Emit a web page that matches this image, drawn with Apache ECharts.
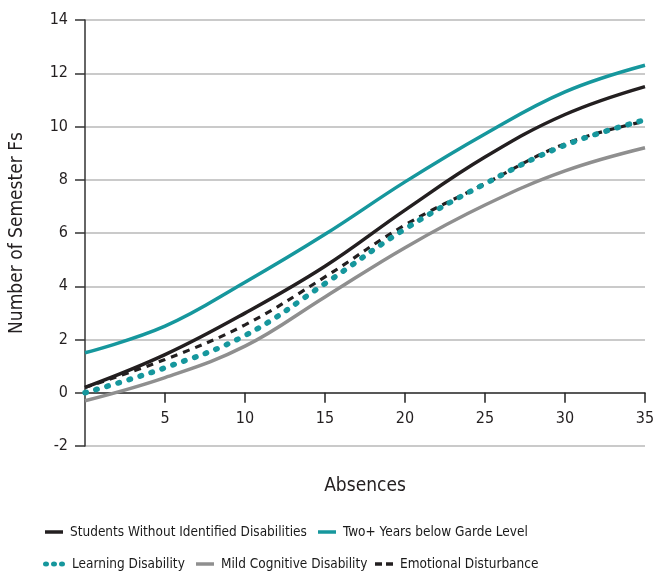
<!DOCTYPE html>
<html>
<head>
<meta charset="utf-8">
<script src="https://cdn.jsdelivr.net/npm/echarts@6/dist/echarts.min.js"></script>
<style>html,body{margin:0;padding:0;background:#fff}#c{width:661px;height:575px}</style>
</head>
<body>
<div id="c"></div>
<script>
var absences = [0, 5, 10, 15, 20, 25, 30, 35];
var noDisability = [0.2, 1.43, 2.99, 4.75, 6.86, 8.85, 10.45, 11.5];
var twoPlusBelow = [1.5, 2.5, 4.15, 5.95, 7.92, 9.72, 11.3, 12.3];
var learningDis = [0.0, 0.94, 2.15, 4.1, 6.15, 7.85, 9.3, 10.25];
var mildCognitive = [-0.3, 0.57, 1.75, 3.6, 5.45, 7.05, 8.33, 9.2];
var emotionalDist = [0.2, 1.25, 2.55, 4.35, 6.3, 7.85, 9.35, 10.2];
var seriesNames = ['Students Without Identified Disabilities', 'Two+ Years below Garde Level', 'Learning Disability', 'Mild Cognitive Disability', 'Emotional Disturbance'];
var yTicks = [-2, 0, 2, 4, 6, 8, 10, 12, 14];
var xTicks = [0, 5, 10, 15, 20, 25, 30, 35];

var FONT = "'Liberation Sans Narrow', 'Arial Narrow', 'DejaVu Sans Condensed', sans-serif";
function pairs(ys) { return absences.map(function (x, i) { return [x, ys[i]]; }); }

var TEAL = '#16979d', BLACK = '#231f20', GRAY = '#8f8f8f';
var ICON_SOLID = 'path://M0,0H18V3.5H0Z';
var ICON_DASH = 'path://M0,0H7V3.5H0Z M11,0H18V3.5H11Z';
var ICON_DOT = 'path://M0,2.5A3,2.5 0 1,0 6,2.5A3,2.5 0 1,0 0,2.5Z M8,2.5A3,2.5 0 1,0 14,2.5A3,2.5 0 1,0 8,2.5Z M16,2.5A3,2.5 0 1,0 22,2.5A3,2.5 0 1,0 16,2.5Z';

function leg(name, icon, w, h, left, top) {
  return {
    data: [{ name: name, icon: icon }], left: left, top: top, itemWidth: w, itemHeight: h, itemGap: 0,
    padding: 0, selectedMode: false, itemStyle: { borderWidth: 0 },
    textStyle: { fontFamily: FONT, fontSize: 13.5, color: '#1a1a1a', padding: [0, 0, 0, 2] }
  };
}

var GRID_TOP = 20, GRID_BOTTOM = 129, H = 575;
var zeroOffset = -(H - GRID_TOP - GRID_BOTTOM) * (0 - yTicks[0]) / (yTicks[yTicks.length - 1] - yTicks[0]);

var chart = echarts.init(document.getElementById('c'), null, { renderer: 'canvas' });
chart.setOption({
  animation: false,
  backgroundColor: '#fff',
  textStyle: { fontFamily: FONT },
  grid: { left: 85, right: 16, top: GRID_TOP, bottom: GRID_BOTTOM, containLabel: false },
  legend: [
    leg(seriesNames[0], ICON_SOLID, 18, 3.5, 45, 525),
    leg(seriesNames[1], ICON_SOLID, 18, 3.5, 318, 525),
    leg(seriesNames[2], ICON_DOT, 22, 5, 43, 557),
    leg(seriesNames[3], ICON_SOLID, 18, 3.5, 196, 557),
    leg(seriesNames[4], ICON_DASH, 18, 3.5, 375, 557)
  ],
  xAxis: {
    type: 'value', min: xTicks[0], max: xTicks[xTicks.length - 1], interval: 5,
    position: 'bottom', offset: zeroOffset,
    name: 'Absences', nameLocation: 'middle', nameGap: 84,
    nameTextStyle: { fontFamily: FONT, fontSize: 19, color: '#231f20' },
    axisLine: { onZero: false, lineStyle: { color: '#333', width: 1.5 } },
    axisTick: { show: true, inside: false, length: 10, lineStyle: { color: '#222', width: 1.5 } },
    axisLabel: { fontFamily: FONT, fontSize: 16, color: '#231f20', margin: 18, showMinLabel: false,
      formatter: function (v) { return v === 0 ? '' : String(v); } },
    splitLine: { show: false }
  },
  yAxis: {
    type: 'value', min: yTicks[0], max: yTicks[yTicks.length - 1], interval: 2,
    name: 'Number of Semester Fs', nameLocation: 'middle', nameGap: 58, nameRotate: 90,
    nameTextStyle: { fontFamily: FONT, fontSize: 19, color: '#231f20' },
    axisLine: { show: true, onZero: false, lineStyle: { color: '#333', width: 1.5 } },
    axisTick: { show: true, inside: false, length: 10, lineStyle: { color: '#333', width: 1.5 } },
    axisLabel: { fontFamily: FONT, fontSize: 16, color: '#231f20', margin: 17 },
    splitLine: { show: true, lineStyle: { color: '#b8b8b8', width: 1.5 } }
  },
  series: [
    { name: seriesNames[3], type: 'line', data: pairs(mildCognitive), smooth: 0.4, symbol: 'none', z: 2,
      lineStyle: { color: GRAY, width: 3.5 }, itemStyle: { color: GRAY, borderWidth: 0 } },
    { name: seriesNames[1], type: 'line', data: pairs(twoPlusBelow), smooth: 0.4, symbol: 'none', z: 2,
      lineStyle: { color: TEAL, width: 3.5 }, itemStyle: { color: TEAL, borderWidth: 0 } },
    { name: seriesNames[0], type: 'line', data: pairs(noDisability), smooth: 0.4, symbol: 'none', z: 3,
      lineStyle: { color: BLACK, width: 3.5 }, itemStyle: { color: BLACK, borderWidth: 0 } },
    { name: seriesNames[4], type: 'line', data: pairs(emotionalDist), smooth: 0.4, symbol: 'none', z: 3,
      lineStyle: { color: BLACK, width: 3.2, type: [7, 6] }, itemStyle: { color: BLACK, borderWidth: 0 } },
    { name: seriesNames[2], type: 'line', data: pairs(learningDis), smooth: 0.4, symbol: 'none', z: 4,
      lineStyle: { color: TEAL, width: 5.5, type: [1.5, 10], cap: 'round' }, itemStyle: { color: TEAL, borderWidth: 0 } }
  ]
});
</script>
</body>
</html>
